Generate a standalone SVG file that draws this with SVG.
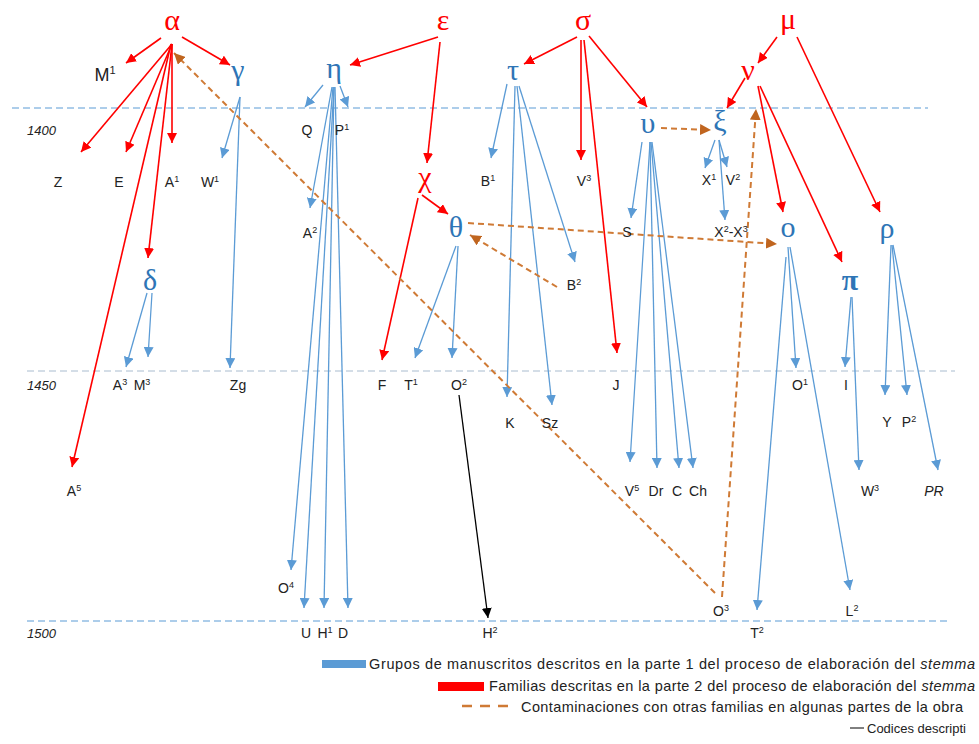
<svg xmlns="http://www.w3.org/2000/svg" width="979" height="744" viewBox="0 0 979 744">
<style>
.g{font-family:"Liberation Serif","DejaVu Serif",serif;font-size:30px;text-anchor:middle}
.r{fill:#ff0000}
.b{fill:#2e75b6}
.t{font-family:"Liberation Sans",Arial,sans-serif;font-size:14px;fill:#222;text-anchor:middle}
.s{font-size:9px}
.yr{font-family:"Liberation Sans",Arial,sans-serif;font-size:13px;font-style:italic;fill:#222}
.lg{font-family:"Liberation Sans",Arial,sans-serif;font-size:14.5px;fill:#222}
.ra{stroke:#ff0000;stroke-width:1.6;fill:none;marker-end:url(#mr)}
.ba{stroke:#5b9bd5;stroke-width:1.3;fill:none;marker-end:url(#mb)}
.oa{stroke:#cf7a35;stroke-width:2;stroke-dasharray:6 4;fill:none;marker-end:url(#mo)}
.ka{stroke:#000;stroke-width:1.3;fill:none;marker-end:url(#mk)}
.hl{stroke:#5b9bd5;stroke-width:1;stroke-dasharray:7 4;fill:none}
</style>
<defs>
<marker id="mr" viewBox="0 0 10 10" refX="10" refY="5" markerWidth="10" markerHeight="10" markerUnits="userSpaceOnUse" orient="auto"><path d="M0,0 L10,5 L0,10 z" fill="#ff0000"/></marker>
<marker id="mb" viewBox="0 0 10 10" refX="10" refY="5" markerWidth="10" markerHeight="10" markerUnits="userSpaceOnUse" orient="auto"><path d="M0,0 L10,5 L0,10 z" fill="#5b9bd5"/></marker>
<marker id="mo" viewBox="0 0 10 10" refX="10" refY="5" markerWidth="11" markerHeight="11" markerUnits="userSpaceOnUse" orient="auto"><path d="M0,0 L10,5 L0,10 z" fill="#c0651f"/></marker>
<marker id="mk" viewBox="0 0 10 10" refX="10" refY="5" markerWidth="10" markerHeight="10" markerUnits="userSpaceOnUse" orient="auto"><path d="M0,0 L10,5 L0,10 z" fill="#000"/></marker>
</defs>
<rect width="979" height="744" fill="#fff"/>

<g id="timeline">
<line class="hl" x1="12" y1="108" x2="928" y2="108"/>
<line class="hl" x1="27" y1="371" x2="955" y2="371" style="stroke:#a9bccf"/>
<line class="hl" x1="27" y1="621" x2="950" y2="621"/>
<text class="yr" x="27" y="135">1400</text>
<text class="yr" x="27" y="390">1450</text>
<text class="yr" x="27" y="638">1500</text>
</g>

<g id="connectors">
<line class="ra" x1="161" y1="38" x2="126" y2="63"/>
<line class="ra" x1="182" y1="37" x2="230" y2="65"/>
<line class="ra" x1="172" y1="44" x2="81" y2="152"/>
<line class="ra" x1="172" y1="44" x2="126" y2="152"/>
<line class="ra" x1="172" y1="44" x2="172" y2="143"/>
<line class="ra" x1="172" y1="44" x2="148" y2="258"/>
<line class="ra" x1="171" y1="44" x2="72" y2="467"/>
<line class="ra" x1="438" y1="37" x2="350" y2="65"/>
<line class="ra" x1="440" y1="42" x2="427" y2="163"/>
<line class="ra" x1="422" y1="195" x2="448" y2="214"/>
<line class="ra" x1="418" y1="198" x2="382" y2="360"/>
<line class="ra" x1="577" y1="37" x2="524" y2="64"/>
<line class="ra" x1="581" y1="40" x2="581" y2="160"/>
<line class="ra" x1="584" y1="40" x2="617" y2="353"/>
<line class="ra" x1="589" y1="36" x2="647" y2="107"/>
<line class="ra" x1="777" y1="37" x2="758" y2="63"/>
<line class="ra" x1="797" y1="37" x2="880" y2="212"/>
<line class="ra" x1="745" y1="78" x2="727" y2="108"/>
<line class="ra" x1="758" y1="86" x2="783" y2="212"/>
<line class="ra" x1="760" y1="86" x2="842" y2="262"/>

<line class="ba" x1="240" y1="97" x2="222" y2="158"/>
<line class="ba" x1="240" y1="97" x2="230" y2="368"/>
<line class="ba" x1="323" y1="85" x2="305" y2="107"/>
<line class="ba" x1="340" y1="86" x2="348" y2="107"/>
<line class="ba" x1="332" y1="87" x2="310" y2="208"/>
<line class="ba" x1="333" y1="87" x2="291" y2="570"/>
<line class="ba" x1="334" y1="87" x2="304" y2="608"/>
<line class="ba" x1="334" y1="87" x2="324" y2="608"/>
<line class="ba" x1="335" y1="87" x2="348" y2="608"/>
<line class="ba" x1="147" y1="293" x2="126" y2="367"/>
<line class="ba" x1="152" y1="293" x2="148" y2="357"/>
<line class="ba" x1="456" y1="246" x2="415" y2="358"/>
<line class="ba" x1="458" y1="246" x2="452" y2="358"/>
<line class="ba" x1="507" y1="84" x2="491" y2="158"/>
<line class="ba" x1="515" y1="86" x2="507" y2="397"/>
<line class="ba" x1="517" y1="86" x2="552" y2="405"/>
<line class="ba" x1="519" y1="86" x2="575" y2="262"/>
<line class="ba" x1="642" y1="142" x2="631" y2="218"/>
<line class="ba" x1="650" y1="142" x2="630" y2="462"/>
<line class="ba" x1="650" y1="142" x2="657" y2="468"/>
<line class="ba" x1="651" y1="142" x2="679" y2="468"/>
<line class="ba" x1="652" y1="142" x2="693" y2="468"/>
<line class="ba" x1="715" y1="140" x2="705" y2="168"/>
<line class="ba" x1="719" y1="140" x2="727" y2="167"/>
<line class="ba" x1="719" y1="140" x2="725" y2="220"/>
<line class="ba" x1="788" y1="247" x2="796" y2="368"/>
<line class="ba" x1="786" y1="257" x2="757" y2="610"/>
<line class="ba" x1="790" y1="247" x2="850" y2="590"/>
<line class="ba" x1="851" y1="297" x2="845" y2="367"/>
<line class="ba" x1="852" y1="297" x2="859" y2="470"/>
<line class="ba" x1="891" y1="245" x2="885" y2="395"/>
<line class="ba" x1="892" y1="245" x2="907" y2="395"/>
<line class="ba" x1="893" y1="245" x2="938" y2="470"/>

<line class="oa" x1="715" y1="593" x2="174" y2="53"/>
<line class="oa" x1="722" y1="597" x2="756" y2="109"/>
<line class="oa" x1="661" y1="128" x2="711" y2="130"/>
<line class="oa" x1="468" y1="223" x2="777" y2="244"/>
<line class="oa" x1="557" y1="287" x2="470" y2="235"/>

<line class="ka" x1="459" y1="395" x2="488" y2="618"/>
</g>

<g id="n-alpha"><text class="g r" x="172" y="30">α</text></g>
<g id="n-epsilon"><text class="g r" x="443" y="30">ε</text></g>
<g id="n-sigma"><text class="g r" x="583" y="30">σ</text></g>
<g id="n-mu"><text class="g r" x="788" y="29">μ</text></g>
<g id="n-gamma"><text class="g b" x="238" y="80">γ</text></g>
<g id="n-eta"><text class="g b" x="334" y="78">η</text></g>
<g id="n-tau"><text class="g b" x="513" y="80">τ</text></g>
<g id="n-nu"><text class="g r" x="748" y="80">ν</text></g>
<g id="n-upsilon"><text class="g b" x="648" y="133">υ</text></g>
<g id="n-xi"><text class="g b" x="720" y="131">ξ</text></g>
<g id="n-chi"><text class="g r" x="425" y="187">χ</text></g>
<g id="n-theta"><text class="g b" x="456" y="237">θ</text></g>
<g id="n-omicron"><text class="g b" x="788" y="237">ο</text></g>
<g id="n-rho"><text class="g b" x="887" y="238">ρ</text></g>
<g id="n-delta"><text class="g b" x="150" y="290">δ</text></g>
<g id="n-pi"><text class="g b" x="850" y="290" font-weight="bold">π</text></g>

<g id="n-M1"><text class="t" x="105" y="81" style="font-size:18px">M<tspan class="s" dy="-7" style="font-size:11px">1</tspan></text></g>
<g id="n-Q"><text class="t" x="307" y="135">Q</text></g>
<g id="n-P1"><text class="t" x="342" y="135">P<tspan class="s" dy="-5">1</tspan></text></g>
<g id="n-Z"><text class="t" x="58" y="187">Z</text></g>
<g id="n-E"><text class="t" x="119" y="187">E</text></g>
<g id="n-A1"><text class="t" x="172" y="187">A<tspan class="s" dy="-5">1</tspan></text></g>
<g id="n-W1"><text class="t" x="210" y="187">W<tspan class="s" dy="-5">1</tspan></text></g>
<g id="n-A2"><text class="t" x="310" y="238">A<tspan class="s" dy="-5">2</tspan></text></g>
<g id="n-B1"><text class="t" x="488" y="186">B<tspan class="s" dy="-5">1</tspan></text></g>
<g id="n-V3"><text class="t" x="584" y="186">V<tspan class="s" dy="-5">3</tspan></text></g>
<g id="n-X1"><text class="t" x="709" y="185">X<tspan class="s" dy="-5">1</tspan></text></g>
<g id="n-V2"><text class="t" x="733" y="185">V<tspan class="s" dy="-5">2</tspan></text></g>
<g id="n-S"><text class="t" x="627" y="237">S</text></g>
<g id="n-X2X3"><text class="t" x="731" y="237">X<tspan class="s" dy="-5">2</tspan><tspan dy="5">-X</tspan><tspan class="s" dy="-5">3</tspan></text></g>
<g id="n-B2"><text class="t" x="574" y="290">B<tspan class="s" dy="-5">2</tspan></text></g>
<g id="n-A3"><text class="t" x="120" y="390">A<tspan class="s" dy="-5">3</tspan></text></g>
<g id="n-M3"><text class="t" x="142" y="390">M<tspan class="s" dy="-5">3</tspan></text></g>
<g id="n-Zg"><text class="t" x="238" y="390">Zg</text></g>
<g id="n-F"><text class="t" x="382" y="390">F</text></g>
<g id="n-T1"><text class="t" x="411" y="390">T<tspan class="s" dy="-5">1</tspan></text></g>
<g id="n-O2"><text class="t" x="459" y="390">O<tspan class="s" dy="-5">2</tspan></text></g>
<g id="n-J"><text class="t" x="616" y="390">J</text></g>
<g id="n-O1"><text class="t" x="800" y="390">O<tspan class="s" dy="-5">1</tspan></text></g>
<g id="n-I"><text class="t" x="846" y="390">I</text></g>
<g id="n-K"><text class="t" x="510" y="428">K</text></g>
<g id="n-Sz"><text class="t" x="550" y="428">Sz</text></g>
<g id="n-Y"><text class="t" x="887" y="427">Y</text></g>
<g id="n-P2"><text class="t" x="909" y="427">P<tspan class="s" dy="-5">2</tspan></text></g>
<g id="n-A5"><text class="t" x="74" y="496">A<tspan class="s" dy="-5">5</tspan></text></g>
<g id="n-V5"><text class="t" x="632" y="496">V<tspan class="s" dy="-5">5</tspan></text></g>
<g id="n-Dr"><text class="t" x="656" y="496">Dr</text></g>
<g id="n-C"><text class="t" x="677" y="496">C</text></g>
<g id="n-Ch"><text class="t" x="698" y="496">Ch</text></g>
<g id="n-W3"><text class="t" x="870" y="496">W<tspan class="s" dy="-5">3</tspan></text></g>
<g id="n-PR"><text class="t" x="934" y="496" font-style="italic">PR</text></g>
<g id="n-O4"><text class="t" x="286" y="593">O<tspan class="s" dy="-5">4</tspan></text></g>
<g id="n-O3"><text class="t" x="721" y="616">O<tspan class="s" dy="-5">3</tspan></text></g>
<g id="n-L2"><text class="t" x="852" y="616">L<tspan class="s" dy="-5">2</tspan></text></g>
<g id="n-U"><text class="t" x="306" y="638">U</text></g>
<g id="n-H1"><text class="t" x="325" y="638">H<tspan class="s" dy="-5">1</tspan></text></g>
<g id="n-D"><text class="t" x="343" y="638">D</text></g>
<g id="n-H2"><text class="t" x="490" y="638">H<tspan class="s" dy="-5">2</tspan></text></g>
<g id="n-T2"><text class="t" x="757" y="638">T<tspan class="s" dy="-5">2</tspan></text></g>

<g id="legend">
<rect x="322" y="660" width="44" height="8" fill="#5b9bd5"/>
<text class="lg" x="369" y="669" textLength="606">Grupos de manuscritos descritos en la parte 1 del proceso de elaboración del <tspan font-style="italic">stemma</tspan></text>
<rect x="438" y="682" width="46" height="9" fill="#ff0000"/>
<text class="lg" x="489" y="691" textLength="486">Familias descritas en la parte 2 del proceso de elaboración del <tspan font-style="italic">stemma</tspan></text>
<line x1="462" y1="706" x2="512" y2="706" stroke="#cf7a35" stroke-width="2.5" stroke-dasharray="10 8"/>
<text class="lg" x="521" y="712" textLength="442">Contaminaciones con otras familias en algunas partes de la obra</text>
<line x1="850" y1="728" x2="864" y2="728" stroke="#000" stroke-width="1"/>
<text class="lg" x="867" y="733" style="font-size:13px">Codices descripti</text>
</g>
</svg>
